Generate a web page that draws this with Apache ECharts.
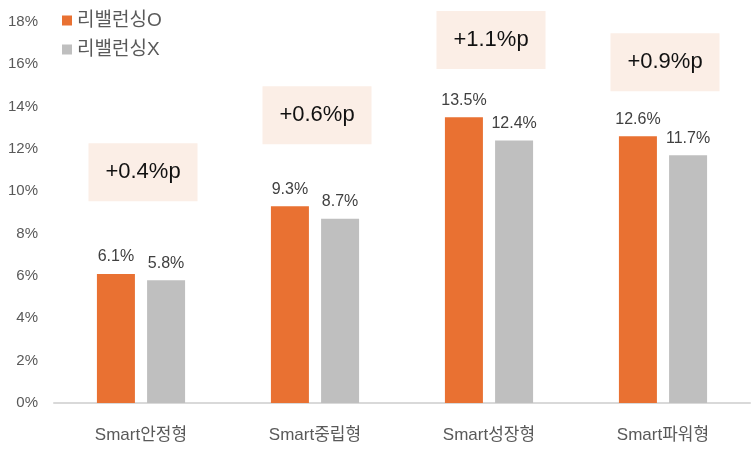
<!DOCTYPE html>
<html>
<head>
<meta charset="utf-8">
<script src="https://cdn.jsdelivr.net/npm/echarts@6/dist/echarts.min.js"></script>
<style>
    html, body { margin: 0; padding: 0; background: #fff; }
    #chart { width: 751px; height: 450px; }
</style>
</head>
<body>
<div id="chart"></div>
<script>
const categories = ['Smart안정형', 'Smart중립형', 'Smart성장형', 'Smart파워형'];
const rebalO = [6.1, 9.3, 13.5, 12.6];
const rebalX = [5.8, 8.7, 12.4, 11.7];
const diffLabels = ['+0.4%p', '+0.6%p', '+1.1%p', '+0.9%p'];
// vertical centre of each difference box, in axis units (%)
const diffY = [10.9, 13.6, 17.15, 16.1];

const FONT = '"Liberation Sans", "Noto Sans CJK KR", sans-serif';

const chart = echarts.init(document.getElementById('chart'));

chart.setOption({
    animation: false,
    textStyle: { fontFamily: FONT },
    legend: {
        orient: 'vertical',
        left: 57,
        top: 6,
        itemWidth: 10,
        itemHeight: 10,
        itemGap: 10,
        icon: 'rect',
        textStyle: { fontSize: 19, color: '#595959', fontFamily: FONT },
        data: ['리밸런싱O', '리밸런싱X'],
    },
    grid: { left: 54, right: 1, top: 22, bottom: 47 },
    xAxis: {
        type: 'category',
        data: categories,
        axisTick: { show: false },
        axisLine: { lineStyle: { color: '#D9D9D9', width: 2 } },
        axisLabel: { fontSize: 17, color: '#595959', margin: 24 },
    },
    yAxis: {
        type: 'value',
        min: 0,
        max: 18,
        interval: 2,
        splitLine: { show: false },
        axisLine: { show: false },
        axisLabel: { fontSize: 15, color: '#595959', margin: 16, formatter: '{value}%' },
    },
    series: [
        {
            name: '리밸런싱O',
            type: 'bar',
            data: rebalO,
            barWidth: 38,
            barGap: '32%',
            itemStyle: { color: '#E97132' },
            label: {
                show: true,
                position: 'top',
                distance: 9,
                fontSize: 16,
                color: '#404040',
                formatter: (p) => p.value.toFixed(1) + '%',
            },
        },
        {
            name: '리밸런싱X',
            type: 'bar',
            data: rebalX,
            barWidth: 38,
            itemStyle: { color: '#BFBFBF' },
            label: {
                show: true,
                position: 'top',
                distance: 9,
                fontSize: 16,
                color: '#404040',
                formatter: (p) => p.value.toFixed(1) + '%',
            },
        },
        {
            name: 'diff',
            type: 'custom',
            silent: true,
            data: diffY.map((y, i) => [i, y]),
            renderItem: (params, api) => {
                const pt = api.coord([api.value(0), api.value(1)]);
                const w = 109;
                const h = 58;
                return {
                    type: 'group',
                    children: [
                        {
                            type: 'rect',
                            shape: { x: pt[0] - w / 2 + 2, y: pt[1] - h / 2, width: w, height: h },
                            style: { fill: '#FBEEE6' },
                        },
                        {
                            type: 'text',
                            style: {
                                x: pt[0] + 2,
                                y: pt[1],
                                text: diffLabels[params.dataIndex],
                                fontSize: 22,
                                fill: '#111111',
                                fontFamily: FONT,
                                align: 'center',
                                verticalAlign: 'middle',
                            },
                        },
                    ],
                };
            },
        },
    ],
});
</script>
</body>
</html>
